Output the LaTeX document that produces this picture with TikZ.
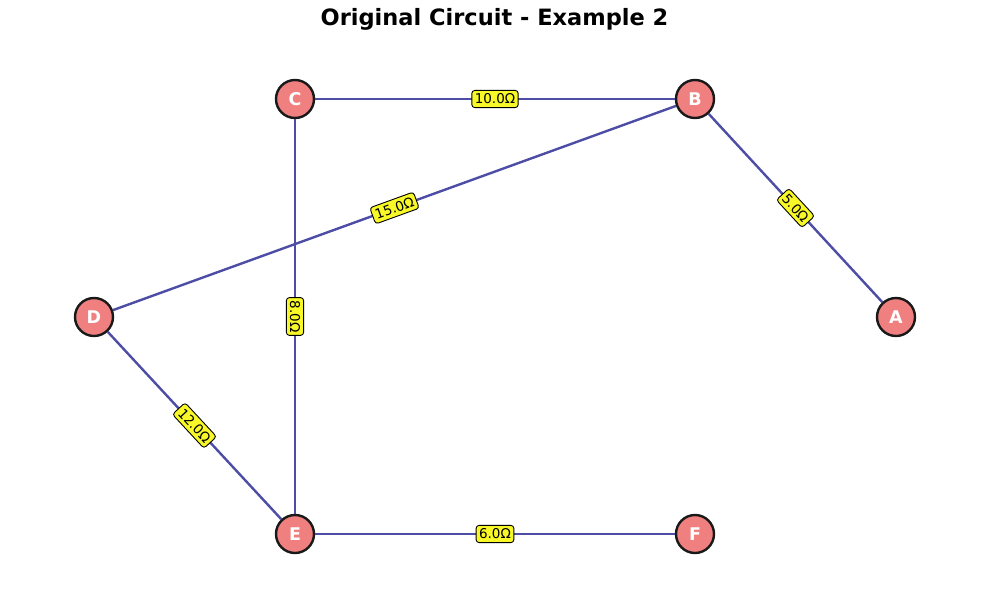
\documentclass[tikz,border=0pt]{standalone}
\usepackage{fontspec}
\setmainfont{DejaVu Sans}
\usepackage{tikz}
\usetikzlibrary{positioning,calc}
\definecolor{wirecol}{RGB}{77,77,166}
\definecolor{nodecol}{RGB}{240,128,128}
\definecolor{lblcol}{RGB}{248,248,40}

\begin{document}
\begin{tikzpicture}[x=1pt,y=-1pt,
    vertex/.style={circle,draw=black!90,line width=2.4pt,fill=nodecol,
      minimum size=38pt,inner sep=0pt,text=white,
      font=\fontsize{17.5}{18}\selectfont\bfseries},
    wire/.style={draw=wirecol,line width=2.4pt},
    lbl/.style={fill=lblcol,draw=black,line width=0.9pt,rounded corners=3pt,
      inner xsep=3pt,inner ysep=3.5pt,text=black,font=\fontsize{13.5}{14}\selectfont}]
      \useasboundingbox (0,0) rectangle (989,590);
      \node[font=\fontsize{22.5}{26}\selectfont\bfseries] (title) at (494.5,19) {Original Circuit - Example 2};
      % vertices
      \node[vertex] (C) at (295,99) {C};
      \node[vertex] (B) at (695,99) {B};
      \node[vertex] (D) at (94,317) {D};
      \node[vertex] (A) at (896,317) {A};
      \node[vertex] (E) at (295,534) {E};
      \node[vertex] (F) at (695,534) {F};
      % resistors
      \draw[wire] (C) -- node[lbl,sloped] {10.0Ω} (B);
      \draw[wire] (B) -- node[lbl,sloped] {5.0Ω} (A);
      \draw[wire] (D) -- node[lbl,sloped] {15.0Ω} (B);
      \draw[wire] (C) -- node[lbl,sloped] {8.0Ω} (E);
      \draw[wire] (D) -- node[lbl,sloped] {12.0Ω} (E);
      \draw[wire] (E) -- node[lbl,sloped] {6.0Ω} (F);
    \end{tikzpicture}
\end{document}
